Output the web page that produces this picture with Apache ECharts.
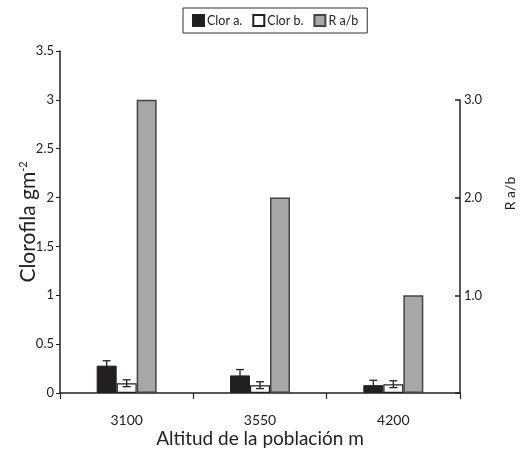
<!DOCTYPE html>
<html><head><meta charset="utf-8">
<script src="https://cdn.jsdelivr.net/npm/echarts@6/dist/echarts.min.js"></script>
<style>html,body{margin:0;padding:0;background:#fff}#c{width:520px;height:454px}</style>
</head><body><div id="c"></div>
<script>
const categories = ['3100', '3550', '4200'];
const clorA = [0.28, 0.18, 0.08];
const clorAErr = [0.05, 0.06, 0.05];
const clorB = [0.10, 0.08, 0.09];
const clorBErr = [0.035, 0.035, 0.035];
const ratioAB = [3.0, 2.0, 1.0];

const FONT = 'Lato';
const chart = echarts.init(document.getElementById('c'), null, {renderer: 'canvas'});

function errSeries(vals, errs, offset) {
  return {
    type: 'custom', xAxisIndex: 0, yAxisIndex: 0, z: 5,
    data: vals.map((v, i) => [i, v, errs[i]]),
    renderItem: function (params, api) {
      const i = api.value(0), v = api.value(1), e = api.value(2);
      const top = api.coord([i, v + e]);
      const bot = api.coord([i, v - e]);
      const x = top[0] + offset;
      const hw = 4;
      const st = {stroke: '#222', lineWidth: 1.3};
      return {type: 'group', children: [
        {type: 'line', shape: {x1: x, y1: top[1], x2: x, y2: bot[1]}, style: st},
        {type: 'line', shape: {x1: x - hw, y1: top[1], x2: x + hw, y2: top[1]}, style: st},
        {type: 'line', shape: {x1: x - hw, y1: bot[1], x2: x + hw, y2: bot[1]}, style: st}
      ]};
    }
  };
}

const option = {
  animation: false,
  textStyle: {fontFamily: FONT},
  legend: {
    top: 8, left: 183,
    data: [{name: 'Clor a.', icon: 'rect'}, {name: 'Clor b.', icon: 'rect'}, {name: 'R a/b', icon: 'rect'}],
    borderColor: '#333', borderWidth: 1,
    padding: [6, 9], itemGap: 10,
    itemWidth: 11, itemHeight: 11,
    textStyle: {fontFamily: FONT, fontSize: 12.5, color: '#222', padding: [0, 0, 0, -2]}
  },
  grid: [
    {left: 60, right: 60, top: 51, bottom: 61, outerBoundsMode: 'none'},
    {left: 60, right: 60, top: 100, bottom: 61, outerBoundsMode: 'none'}
  ],
  xAxis: [
    {
      type: 'category', gridIndex: 0, data: categories,
      axisLine: {lineStyle: {color: '#222', width: 1.5}},
      axisTick: {show: true, length: 6, lineStyle: {color: '#222', width: 1.2}},
      axisLabel: {color: '#222', fontSize: 14, margin: 20, fontFamily: FONT},
      name: 'Altitud de la población m', nameLocation: 'middle', nameGap: 36, nameMoveOverlap: false,
      nameTextStyle: {fontSize: 19, color: '#222', fontFamily: FONT}
    },
    {
      type: 'category', gridIndex: 1, data: categories, show: false
    }
  ],
  yAxis: [
    {
      type: 'value', gridIndex: 0, min: 0, max: 3.5, interval: 0.5,
      axisLine: {show: true, lineStyle: {color: '#222', width: 1.5}},
      axisTick: {show: true, length: 4, lineStyle: {color: '#222'}},
      splitLine: {show: false},
      axisLabel: {color: '#222', fontSize: 13, margin: 6, fontFamily: FONT},
      name: '{a|Clorofila gm}{s|-2}', nameLocation: 'middle', nameGap: 21, nameRotate: 90,
      nameMoveOverlap: false,
      nameTextStyle: {rich: {
        a: {fontSize: 21, color: '#222', fontFamily: FONT},
        s: {fontSize: 11, color: '#222', fontFamily: FONT, verticalAlign: 'top', padding: [0, 0, 10, 0]}
      }}
    },
    {
      type: 'value', gridIndex: 1, position: 'right', min: 0, max: 3, interval: 1,
      axisLine: {show: true, lineStyle: {color: '#222', width: 1.5}},
      axisTick: {show: true, inside: true, length: 5, lineStyle: {color: '#222', width: 1.5}},
      splitLine: {show: false},
      axisLabel: {color: '#222', fontSize: 13, margin: 4, fontFamily: FONT,
        formatter: v => v === 0 ? '' : v.toFixed(1)},
      name: 'R a/b', nameLocation: 'middle', nameGap: 43, nameRotate: 90,
      nameMoveOverlap: false,
      nameTextStyle: {fontSize: 14, color: '#222', fontFamily: FONT, padding: [0, 0, 0, 106]}
    }
  ],
  series: [
    {name: 'Clor a.', type: 'bar', data: clorA, barWidth: 20, barGap: '0%',
     itemStyle: {color: '#231f20', borderColor: '#222', borderWidth: 1}},
    {name: 'Clor b.', type: 'bar', data: clorB, barWidth: 20, barGap: '0%',
     itemStyle: {color: '#ffffff', borderColor: '#222', borderWidth: 1.2}},
    {name: 'R a/b', type: 'bar', data: ratioAB, barWidth: 20, barGap: '0%',
     itemStyle: {color: '#a7a7a9', borderColor: '#444', borderWidth: 1.5}},
    errSeries(clorA, clorAErr, -20),
    errSeries(clorB, clorBErr, 0)
  ]
};
chart.setOption(option);
</script></body></html>
